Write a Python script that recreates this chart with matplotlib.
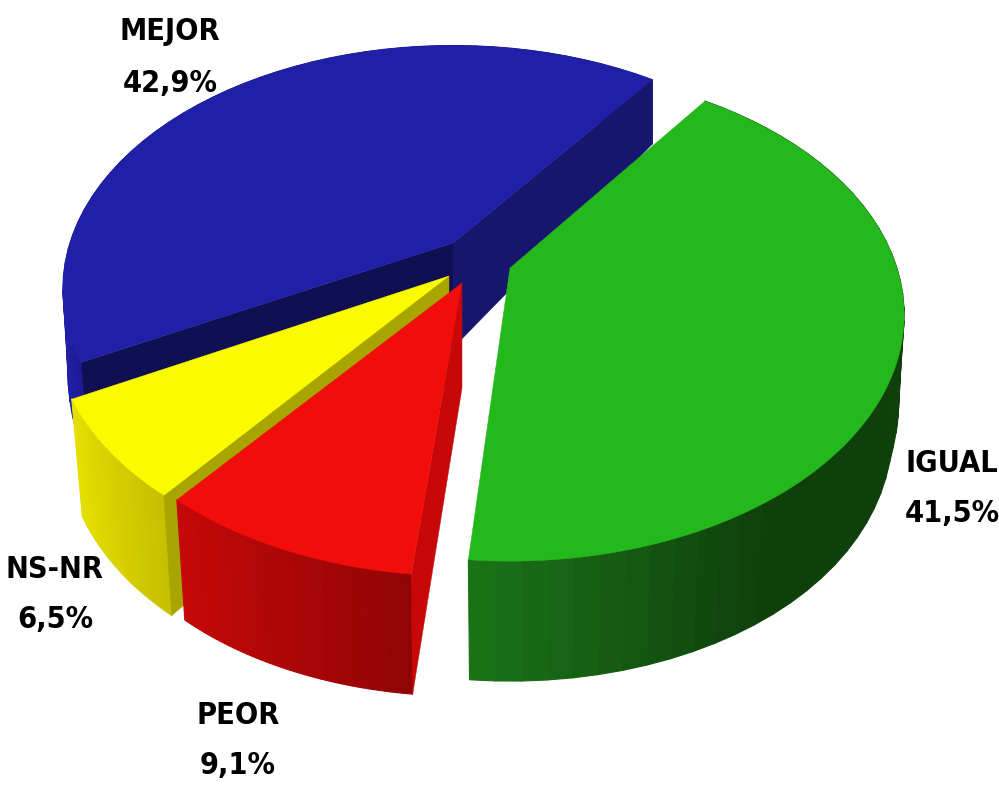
#!/usr/bin/python3

import numpy as np
import matplotlib
matplotlib.use("Agg")
from matplotlib import pyplot as plt
from matplotlib import font_manager
from matplotlib.collections import PolyCollection
from matplotlib.colors import to_rgb

# chart values
categories = ["IGUAL", "PEOR", "NS-NR", "MEJOR"]
values = [41.5, 9.1, 6.5, 42.9]
value_labels = ["41,5%", "9,1%", "6,5%", "42,9%"]

# slice looks
apex = {"IGUAL": (510, 268), "PEOR": (462, 283), "NS-NR": (449, 276), "MEJOR": (453, 243)}
spin = {"IGUAL": -0.2, "PEOR": -1.3, "NS-NR": -1.0, "MEJOR": -1.4}
scale = {"IGUAL": 1.005, "PEOR": 1.005, "NS-NR": 1.01, "MEJOR": 0.995}
top_color = {"IGUAL": "#24b81c", "PEOR": "#f20c0a", "NS-NR": "#fbfb00", "MEJOR": "#2020a6"}
wall_left = {"IGUAL": "#1b7518", "PEOR": "#c80808", "NS-NR": "#e8e200", "MEJOR": "#2020a8"}
wall_right = {"IGUAL": "#0f400c", "PEOR": "#8e0404", "NS-NR": "#c2bc00", "MEJOR": "#1c1c98"}
wall_range = {"IGUAL": (-0.1, 0.55), "PEOR": (-0.65, -0.08), "NS-NR": (-0.9, -0.6), "MEJOR": (-1, -0.9)}
# None = that cut face can't be seen
cut_start = {"IGUAL": None, "PEOR": "#c80808", "NS-NR": "#a8a400", "MEJOR": "#0f0f52"}
cut_end = {"IGUAL": None, "PEOR": None, "NS-NR": None, "MEJOR": "#16166e"}
label_pos = {"IGUAL": (952, 463, 514), "PEOR": (238, 716, 765), "NS-NR": (55, 569, 620), "MEJOR": (170, 31, 83)}
draw_order = ["MEJOR", "NS-NR", "PEOR", "IGUAL"]

# perspective of the disc
START_ANGLE = 54.6
RADIUS = 385
FLAT = 236
PERSP = 0.19
BOTTOM_SHRINK = 0.028


def depth(v):
    return 105 + 35 * v - 20 * v * v


def top_point(t, name, r=1.0):
    cx, cy = apex[name]
    u = r * np.cos(t)
    v = -r * np.sin(t)
    w = 1 - PERSP * v
    return cx + RADIUS * u / w, cy + FLAT * v / w


def bottom_point(t, name, r=1.0):
    cx, cy = apex[name]
    x, y = top_point(t, name, r)
    v = -r * np.sin(t)
    # rim pulls in a little towards the front only
    s = 1 - BOTTOM_SHRINK * np.clip(v / 0.3, 0, 1)
    return cx + (x - cx) * s, y + depth(v)


def narrow_font():
    # look for any condensed face on the machine
    found = []
    for f in font_manager.fontManager.ttflist:
        text = f.name.lower()
        if "narrow" in text or "condensed" in text or f.stretch in ("condensed", "semi-condensed"):
            found.append(f)
    found.sort(key=lambda f: f.weight not in ("bold", 700))
    if found:
        return font_manager.FontProperties(fname=found[0].fname, size=22)
    return font_manager.FontProperties(family="Liberation Sans", weight="bold", size=19)


fig = plt.figure(figsize=(9.99, 7.85), dpi=100)
ax = fig.add_axes([0, 0, 1, 1])
ax.set_xlim(0, 999)
ax.set_ylim(785, 0)
ax.axis("off")

# slice angles come from the values, clockwise from the start angle
edges = START_ANGLE - np.cumsum([0] + values) * 3.6
angle_range = {}
for i, name in enumerate(categories):
    angle_range[name] = (edges[i], edges[i + 1])

for name in draw_order:
    a0, a1 = np.radians(np.array(angle_range[name]) + spin[name])
    ts = np.linspace(a0, a1, 48)
    rr = scale[name]

    # outer wall, shaded in strips
    c0, c1 = np.array(to_rgb(wall_left[name])), np.array(to_rgb(wall_right[name]))
    lo, hi = wall_range[name]
    quads = []
    cols = []
    for t0, t1 in zip(ts[:-1], ts[1:]):
        quads.append([top_point(t0, name, rr), top_point(t1, name, rr), bottom_point(t1, name, rr), bottom_point(t0, name, rr)])
        f = np.clip((np.cos((t0 + t1) / 2) - lo) / (hi - lo), 0, 1)
        cols.append(c0 + (c1 - c0) * f)
    ax.add_collection(PolyCollection(quads, facecolors=cols, edgecolors=cols, linewidths=0.8))

    # flat cut faces
    for t, col in ((a0, cut_start[name]), (a1, cut_end[name])):
        if col is None:
            continue
        quad = [top_point(t, name, 0), top_point(t, name, rr), bottom_point(t, name, rr), bottom_point(t, name, 0)]
        ax.fill(*zip(*quad), color=col, lw=0.3)

    # top face
    ts_top = np.linspace(a0, a1, 200)
    xs, ys = top_point(ts_top, name, rr)
    cx, cy = apex[name]
    ax.fill(np.r_[cx, xs], np.r_[cy, ys], color=top_color[name], lw=0.3)

label_font = narrow_font()
for i, name in enumerate(categories):
    x, y0, y1 = label_pos[name]
    for txt, y in ((name, y0), (value_labels[i], y1)):
        ax.text(x, y, txt, ha="center", va="center", fontproperties=label_font, color="black")

fig.savefig("out.png", dpi=100, facecolor="white")
